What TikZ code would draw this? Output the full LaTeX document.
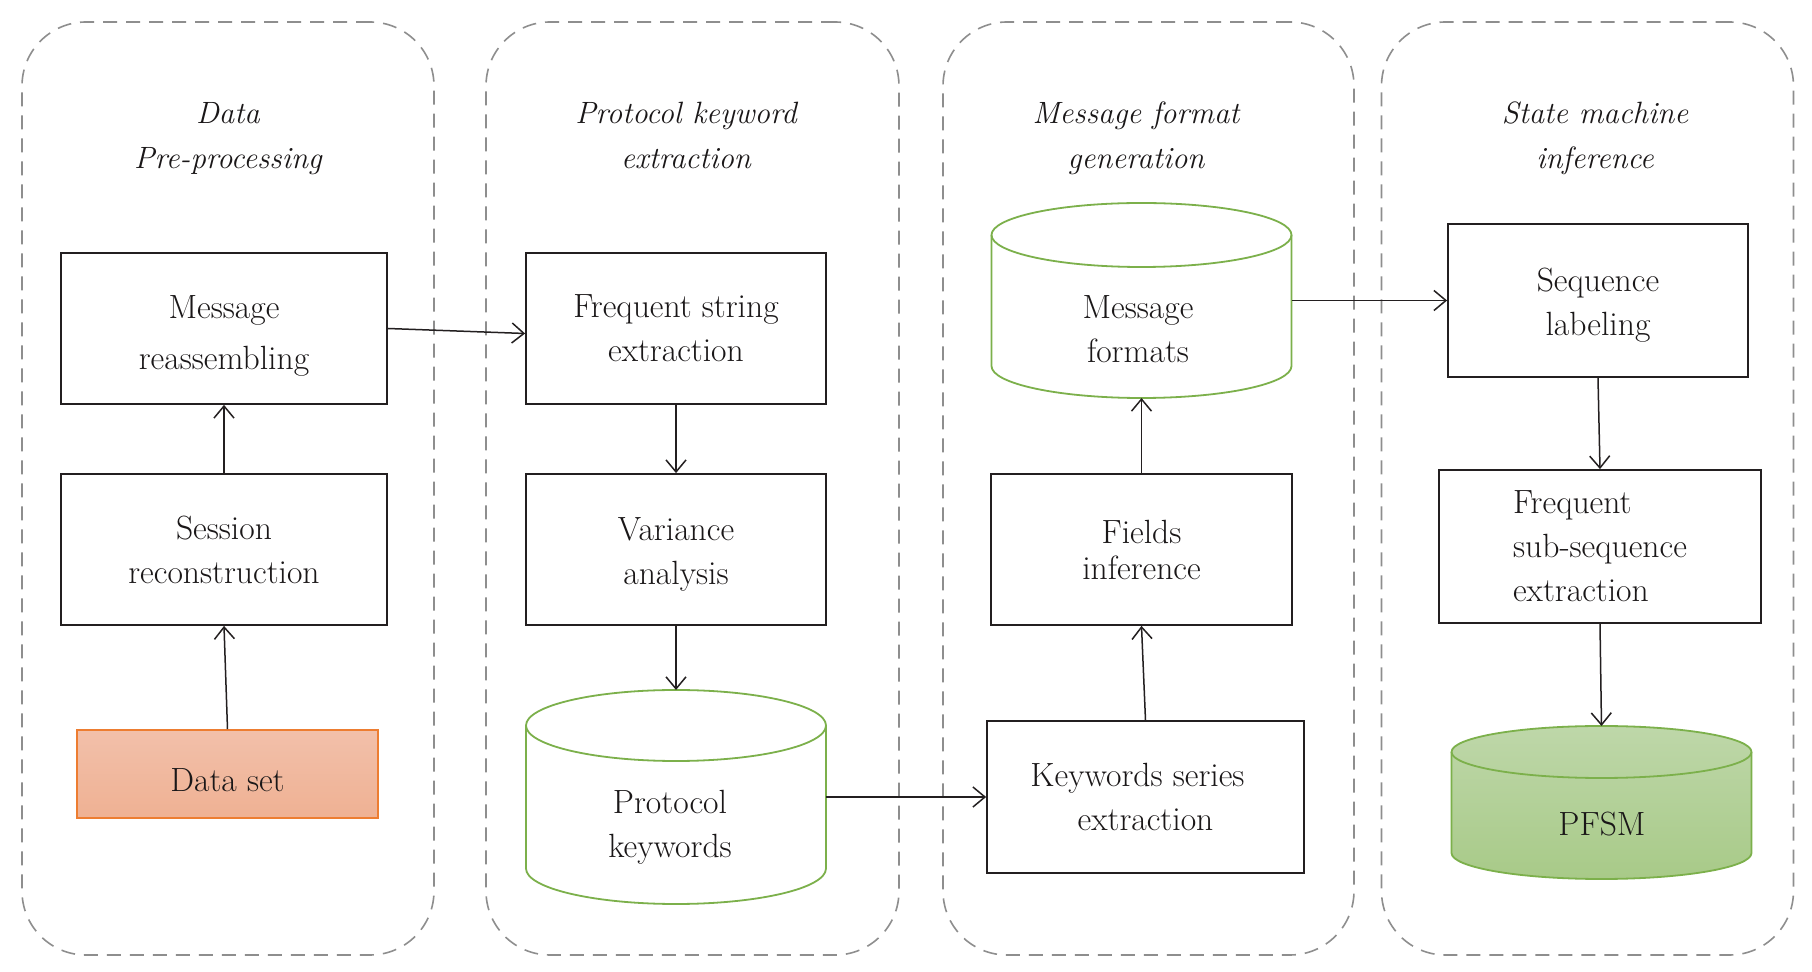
\documentclass[tikz,border=0pt]{standalone}
\usetikzlibrary{arrows.meta}
\definecolor{panelgray}{HTML}{8E8E8E}
\definecolor{boxline}{HTML}{231F20}
\definecolor{txt}{HTML}{1A1718}
\definecolor{cylgreen}{HTML}{7CB04B}
\definecolor{dsorange}{HTML}{ED7D31}
\definecolor{dstop}{HTML}{F2C0AA}
\definecolor{dsbot}{HTML}{EFB193}
\definecolor{pftop}{HTML}{BED7A9}
\definecolor{pfbot}{HTML}{A8CA88}
\newcommand\boxfont{\fontsize{16.8}{22}\selectfont}
\newcommand\titlefont{\fontsize{15.4}{22.5}\selectfont\itshape}
\newcommand\cylrx{75pt}
\newcommand\mycyl[3]{%
  \path[#3] ([yshift=-#2]#1.north west) -- ([yshift=#2]#1.south west)
    arc[start angle=180,end angle=360,x radius=\cylrx,y radius=#2]
    -- ([yshift=-#2]#1.north east)
    arc[start angle=0,end angle=180,x radius=\cylrx,y radius=#2] -- cycle;
  \draw[draw=cylgreen,line width=0.9pt] ([yshift=-#2]#1.north west)
    arc[start angle=180,end angle=360,x radius=\cylrx,y radius=#2];
}
\tikzset{
  panel/.style={draw=panelgray,line width=0.8pt,dash pattern=on 7pt off 4.5pt,
    rounded corners=32pt,inner sep=0pt,outer sep=0pt,minimum height=466.5pt},
  box/.style={draw=boxline,line width=0.9pt,fill=white,align=center,text=txt,
    font=\boxfont,inner sep=0pt},
  ttl/.style={align=center,text=txt,font=\titlefont},
  cylnode/.style={draw=none,inner sep=0pt,outer sep=0pt,minimum width=150pt},
  cyltext/.style={align=center,text=txt,font=\boxfont,inner sep=0pt},
  arr/.style={-{Straight Barb[length=6pt,width=10pt]},line width=0.75pt,draw=boxline},
}
\begin{document}
\begin{tikzpicture}[x=0.5pt,y=-0.5pt]
\useasboundingbox[fill=white] (0,0) rectangle (1812,972);

% panels
\node[panel,minimum width=206pt] (p1) at (228,488.5) {};
\node[panel,minimum width=206.5pt] (p2) at (692.5,488.5) {};
\node[panel,minimum width=205.5pt] (p3) at (1148.5,488.5) {};
\node[panel,minimum width=206pt] (p4) at (1587.5,488.5) {};

% titles
\node[ttl] (t1) at (228,139) {Data\\Pre-processing};
\node[ttl] (t2) at (686,135) {Protocol keyword\\extraction};
\node[ttl] (t3) at (1136,138) {Message format\\generation};
\node[ttl] (t4) at (1595,138) {State machine\\inference};

% column 1
\node[box,minimum width=163pt,minimum height=75.5pt,font={\fontsize{16.8}{25.5}\selectfont},text height=44pt] (mr) at (224,328.5) {Message\\reassembling};
\node[box,minimum width=163pt,minimum height=75.5pt] (sr) at (224,549.5) {Session\\reconstruction};
\node[box,draw=dsorange,top color=dstop,bottom color=dsbot,minimum width=150.5pt,minimum height=44pt,text height=17.5pt] (ds) at (227.5,774) {Data set};

% column 2
\node[box,minimum width=150pt,minimum height=75.5pt] (fs) at (676,328.5) {Frequent string\\extraction};
\node[box,minimum width=150pt,minimum height=75.5pt,text height=38pt] (va) at (676,549.5) {Variance\\analysis};
\node[cylnode,minimum height=107pt] (pk) at (676,797) {};
\mycyl{pk}{17.75pt}{draw=cylgreen,line width=0.9pt,fill=white}
\node[cyltext] (pkt) at (670,827) {Protocol\\keywords};

% column 3
\node[cylnode,minimum height=97.5pt] (mf) at (1141.5,300.5) {};
\mycyl{mf}{16pt}{draw=cylgreen,line width=0.9pt,fill=white}
\node[cyltext] (mft) at (1138,329) {Message\\formats};
\node[box,minimum width=150.5pt,minimum height=75.5pt,font={\fontsize{16.8}{18}\selectfont}] (fi) at (1141.5,549.5) {Fields\\inference};
\node[box,minimum width=158.5pt,minimum height=76pt] (ks) at (1145.5,797) {Keywords series\hspace*{8pt}\\extraction};

% column 4
\node[box,minimum width=150pt,minimum height=76.5pt,text height=38.3pt] (sl) at (1598,300.5) {Sequence\\labeling};
\node[box,minimum width=161pt,minimum height=76.5pt,align=left] (fss) at (1600,546.5) {Frequent\\sub-sequence\\extraction};
\node[cylnode,minimum height=76.5pt] (pf) at (1601.5,802.5) {};
\mycyl{pf}{13pt}{draw=cylgreen,line width=0.9pt,top color=pftop,bottom color=pfbot}
\node[cyltext] (pft) at (1602,824) {PFSM};

% connectors
\draw[arr] (ds.north) -- (sr.south);
\draw[arr] (sr.north) -- (mr.south);
\draw[arr] (mr.east) -- ([yshift=-2.5pt]fs.west);
\draw[arr] (fs.south) -- (va.north);
\draw[arr] (va.south) -- (pk.north);
\draw[arr] (pk.east) -- (ks.west);
\draw[arr] (ks.north) -- (fi.south);
\draw[arr] (fi.north) -- (mf.south);
\draw[arr] (mf.east) -- (sl.west);
\draw[arr] (sl.south) -- (fss.north);
\draw[arr] (fss.south) -- (pf.north);
\end{tikzpicture}
\end{document}
